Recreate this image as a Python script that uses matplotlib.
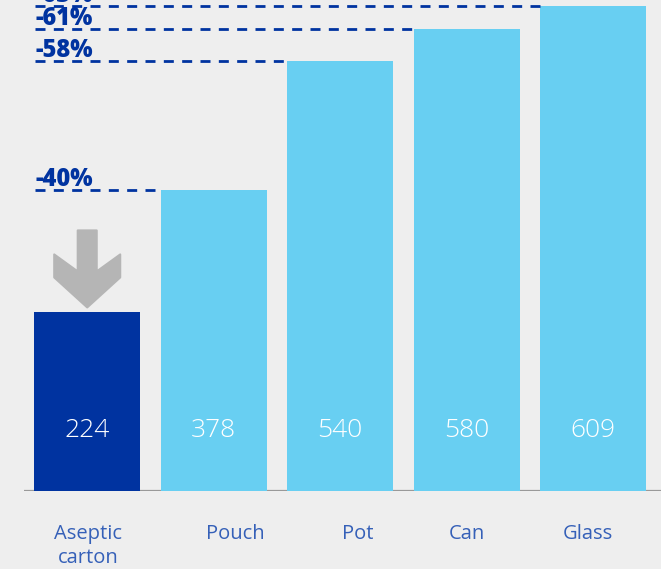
import numpy as np
import matplotlib
matplotlib.use("Agg")
import matplotlib.pyplot as plt
import matplotlib.transforms as mtransforms
from matplotlib.patches import Polygon

# data
categories = ["Aseptic\ncarton", "Pouch", "Pot", "Can", "Glass"]
values = [224, 378, 540, 580, 609]
pct_labels = ["-40%", "-58%", "-61%", "-63%"]   # carton vs pouch, pot, can, glass

# label nudges (pixels) to mimic the original layout
label_dx = [1, 22, 18, 0, -5]

bg = "#eeeeee"
dark = "#0033a0"
light = "#68cff2"
cat_col = "#3560b8"

plt.rcParams["font.family"] = ["Open Sans", "DejaVu Sans"]

fig = plt.figure(figsize=(6.61, 5.69), dpi=100)
fig.patch.set_facecolor(bg)
ax = fig.add_axes([24 / 661, 78.5 / 569, 637 / 661, 490.5 / 569])
ax.set_facecolor(bg)
ax.set_xlim(-0.5, 4.538)
ax.set_ylim(0, 617)
ax.set_axis_off()

x = np.arange(len(values))
w = 0.838
colors = [dark] + [light] * (len(values) - 1)
ax.axhline(0, color="#999999", lw=1.6, zorder=1)
ax.bar(x, values, width=w, color=colors, zorder=2)

# values inside bars
for xi, v in zip(x, values):
    ax.text(xi, 75, str(v), ha="center", va="center", color="white",
            fontsize=19, fontweight="light", zorder=3)

# category labels under the axis
blend = mtransforms.blended_transform_factory(ax.transData, ax.transAxes)
for xi, lab, dx in zip(x, categories, label_dx):
    ax.annotate(lab, xy=(xi, 0), xycoords=blend, xytext=(dx * 0.72, -24),
                textcoords="offset points", ha="center", va="top",
                color=cat_col, fontsize=14.5, linespacing=1.3)

# dashed reference lines and reduction labels
x_start = -0.411
for xi, v, lab in zip(x[1:], values[1:], pct_labels):
    ax.hlines(v, x_start, xi - w / 2, colors=dark, lw=2.0,
              linestyles=(0, (3.6, 3.0)), zorder=3)
    ax.annotate(lab, xy=(x_start, v), xytext=(0, 3), textcoords="offset points",
                ha="left", va="baseline", color=dark, fontsize=17,
                fontweight=800, annotation_clip=False)

# grey down arrow above the carton bar (pixel offsets from bar top)
arrow_px = np.array([[-9.5, 82], [9.5, 82], [9.5, 41], [33, 58], [33, 35],
                     [0, 5], [-33, 35], [-33, 58], [-9.5, 41]])
tr = (mtransforms.Affine2D().scale(1 / fig.dpi) + fig.dpi_scale_trans
      + mtransforms.ScaledTranslation(x[0], values[0], ax.transData))
ax.add_patch(Polygon(arrow_px, closed=True, transform=tr, facecolor="#b5b5b5",
                     edgecolor="#b5b5b5", lw=1.5, joinstyle="round", zorder=3))

fig.savefig("out.png", dpi=100, facecolor=bg)
